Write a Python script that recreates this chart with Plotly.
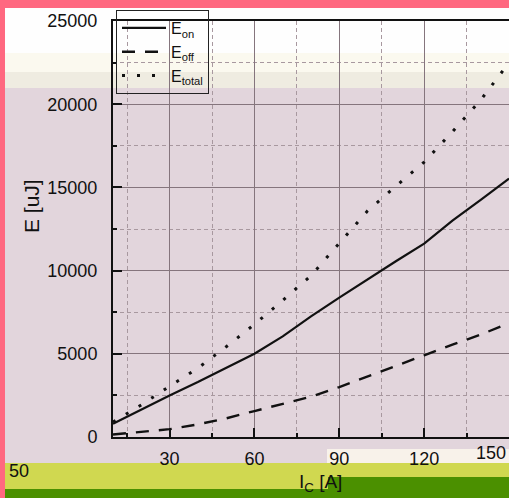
import plotly.graph_objects as go

# ---- data ----
ic = [10, 20, 30, 40, 50, 60, 70, 80, 90, 100, 110, 120, 130, 140, 150]
e_on = [800, 1650, 2500, 3300, 4150, 5000, 6050, 7250, 8380, 9480, 10560, 11620, 13000, 14250, 15530]
e_off = [150, 300, 470, 760, 1120, 1560, 2000, 2420, 3000, 3650, 4300, 4910, 5550, 6150, 6850]
e_total = [900, 1930, 3050, 4140, 5420, 6770, 8210, 9700, 11640, 13590, 15070, 16520, 18350, 20250, 22500]
x_ticks = [30, 60, 90, 120, 150]
y_ticks = [0, 5000, 10000, 15000, 20000, 25000]

# page offset (body margin) in screen pixels
OX, OY = 5, 8
W, H = 509 - OX, 498 - OY
# plot area in screen pixels
SX0, SX1, SY0, SY1 = 113, 509, 21, 437
L, R, T, B = SX0 - OX, 509 - SX1, SY0 - OY, 498 - SY1
PW, PH = SX1 - SX0, SY1 - SY0

def px(x):
    return (x - SX0) / PW

def py(y):
    return (SY1 - y) / PH

FONT = "Arial, Liberation Sans, sans-serif"

fig = go.Figure()
fig.add_trace(go.Scatter(x=ic, y=e_on, mode="lines", name="E<sub>on</sub>",
                         line=dict(color="#111111", width=2.2)))
fig.add_trace(go.Scatter(x=ic, y=e_off, mode="lines", name="E<sub>off</sub>",
                         line=dict(color="#111111", width=2.4, dash="13px,10px")))
fig.add_trace(go.Scatter(x=ic, y=e_total, mode="lines", name="E<sub>total</sub>",
                         line=dict(color="#111111", width=3, dash="3px,12px")))

def rect(x0, y0, x1, y1, color):
    fig.add_shape(type="rect", xref="paper", yref="paper",
                  x0=px(x0), x1=px(x1), y0=py(y1), y1=py(y0),
                  fillcolor=color, line=dict(width=0), layer="below")

# background bands (screen pixel coordinates)
rect(5, 8, 509, 53, "#fefefe")
rect(5, 53, 509, 72, "#fbf9ef")
rect(5, 72, 509, 88, "#efece1")
rect(327, 449, 509, 463, "#f8f2ea")
rect(5, 463, 509, 498, "#d0d850")
rect(328, 477, 509, 498, "#4b9000")
rect(5, 489, 509, 498, "#4b9000")

axis_common = dict(
    showline=True, linecolor="#111111", linewidth=2, mirror=True,
    ticks="inside", ticklen=9, tickwidth=1.5, tickcolor="#111111",
    showgrid=True, gridcolor="#85757d", gridwidth=1,
    tickfont=dict(family=FONT, size=18, color="#111111"),
    zeroline=False, tickformat="d", automargin=False,
)

fig.update_xaxes(range=[10, 150], tickvals=x_ticks, ticklabelstandoff=4,
                 minor=dict(dtick=15, tick0=0, ticks="inside", ticklen=4, tickcolor="#111111",
                            showgrid=True, gridcolor="#a8989f", griddash="4px,3px"),
                 **axis_common)
fig.update_yaxes(range=[0, 25000], tickvals=y_ticks, ticklabelstandoff=10,
                 minor=dict(dtick=2500, tick0=0, ticks="inside", ticklen=4, tickcolor="#111111",
                            showgrid=True, gridcolor="#a8989f", griddash="4px,3px"),
                 **axis_common)

fig.add_annotation(text="E [uJ]", xref="paper", yref="paper", x=px(31), y=py(206),
                   xanchor="center", yanchor="middle",
                   textangle=-90, showarrow=False, font=dict(family=FONT, size=21, color="#111111"))
fig.add_annotation(text="I<sub>C</sub> [A]", xref="paper", yref="paper", x=px(320), y=py(483),
                   xanchor="center", yanchor="middle",
                   showarrow=False, font=dict(family=FONT, size=19, color="#111111"))
fig.add_annotation(text="50", xref="paper", yref="paper", x=px(7), y=py(459),
                   xanchor="left", yanchor="top", showarrow=False,
                   font=dict(family=FONT, size=18, color="#111111"))
# last x tick label, kept inside the page at the right edge
fig.add_annotation(text=str(x_ticks[-1]), xref="x", yref="paper", x=x_ticks[-1], y=py(453),
                   xanchor="right", yanchor="middle", showarrow=False, xshift=-1,
                   font=dict(family=FONT, size=18, color="#111111"))

fig.update_layout(
    width=W, height=H,
    margin=dict(l=L, r=R, t=T, b=B, autoexpand=False),
    paper_bgcolor="#e2d5dc",
    plot_bgcolor="rgba(0,0,0,0)",
    showlegend=True,
    legend=dict(x=px(116), y=py(10), xanchor="left", yanchor="top",
                bgcolor="rgba(0,0,0,0)", bordercolor="#222222", borderwidth=1,
                font=dict(family=FONT, size=16, color="#111111"),
                itemwidth=44, tracegroupgap=0),
    font=dict(family=FONT),
)

post = ("document.body.style.margin='%dpx 0 0 %dpx';"
        "document.body.style.background='#ff6880';"
        "document.body.style.overflow='hidden';" % (OY, OX))
fig.write_html("out.html", post_script=post)
